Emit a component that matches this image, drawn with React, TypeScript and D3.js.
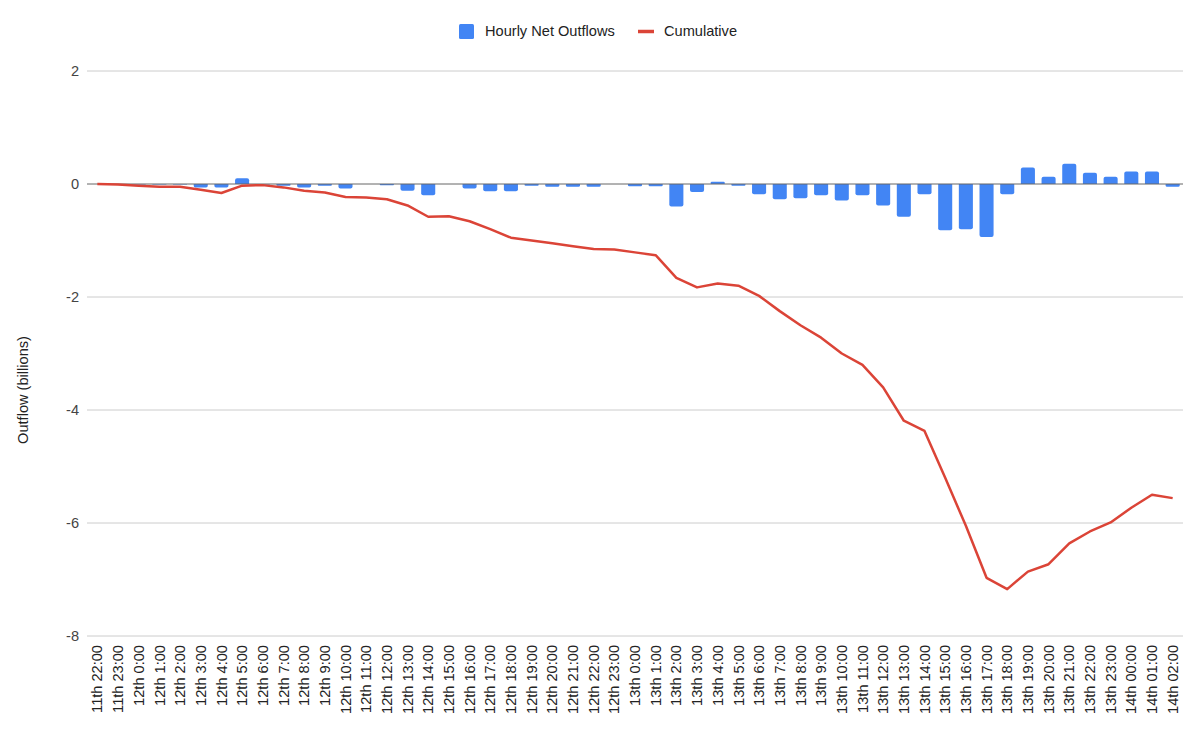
import React from "react";
import * as d3 from "d3";

const categories: string[] = [
  "11th 22:00", "11th 23:00",
  "12th 0:00", "12th 1:00", "12th 2:00", "12th 3:00", "12th 4:00", "12th 5:00",
  "12th 6:00", "12th 7:00", "12th 8:00", "12th 9:00", "12th 10:00", "12th 11:00",
  "12th 12:00", "12th 13:00", "12th 14:00", "12th 15:00", "12th 16:00", "12th 17:00",
  "12th 18:00", "12th 19:00", "12th 20:00", "12th 21:00", "12th 22:00", "12th 23:00",
  "13th 0:00", "13th 1:00", "13th 2:00", "13th 3:00", "13th 4:00", "13th 5:00",
  "13th 6:00", "13th 7:00", "13th 8:00", "13th 9:00", "13th 10:00", "13th 11:00",
  "13th 12:00", "13th 13:00", "13th 14:00", "13th 15:00", "13th 16:00", "13th 17:00",
  "13th 18:00", "13th 19:00", "13th 20:00", "13th 21:00", "13th 22:00", "13th 23:00",
  "14th 00:00", "14th 01:00", "14th 02:00",
];

const hourly: number[] = [
  0, -0.005, -0.01, -0.01, -0.01, -0.06, -0.06, 0.1,
  -0.01, -0.03, -0.06, -0.03, -0.08, -0.005,
  -0.02, -0.12, -0.2, 0.005, -0.08, -0.13,
  -0.13, -0.03, -0.05, -0.05, -0.05, 0.005,
  -0.04, -0.04, -0.4, -0.14, 0.04, -0.03,
  -0.18, -0.27, -0.25, -0.2, -0.29, -0.2,
  -0.38, -0.58, -0.18, -0.82, -0.8, -0.94,
  -0.18, 0.29, 0.13, 0.36, 0.2, 0.13,
  0.22, 0.22, -0.05,
];

const cumulative: number[] = [
  0, -0.01, -0.03, -0.05, -0.05, -0.1, -0.16, -0.03,
  -0.02, -0.06, -0.12, -0.15, -0.23, -0.24,
  -0.27, -0.38, -0.58, -0.57, -0.66, -0.8,
  -0.95, -1.0, -1.05, -1.1, -1.15, -1.16,
  -1.21, -1.26, -1.66, -1.83, -1.76, -1.8,
  -1.98, -2.25, -2.5, -2.72, -3.0, -3.2,
  -3.6, -4.19, -4.37, -5.2, -6.05, -6.97,
  -7.17, -6.86, -6.73, -6.36, -6.15, -5.99,
  -5.73, -5.5, -5.56,
];

const yTicks: number[] = [2, 0, -2, -4, -6, -8];

const seriesNames = ["Hourly Net Outflows", "Cumulative"];
const BLUE = "#4285F4";
const RED = "#DB4437";
const FONT = "'Liberation Sans', Arial, sans-serif";

export default function App() {
  const W = 1200;
  const H = 734;
  const left = 87;
  const right = 1183;
  const top = 71;
  const bottom = 636;

  const x = d3.scaleBand<string>().domain(categories).range([left, right]).paddingInner(0.32).paddingOuter(0.16);
  const xc = (c: string) => (x(c) as number) + x.bandwidth() / 2;
  const y = d3.scaleLinear().domain([-8, 2]).range([bottom, top]);

  const line = d3
    .line<number>()
    .x((_, i) => xc(categories[i]))
    .y((d) => y(d));

  const barPath = (c: string, v: number) => {
    const x0 = x(c) as number;
    const w = x.bandwidth();
    const y0 = y(0);
    const y1 = y(v);
    const h = Math.abs(y1 - y0);
    const r = Math.min(2, h / 2, w / 2);
    if (h < 0.5) return "";
    if (v >= 0) {
      return `M${x0},${y0}V${y1 + r}Q${x0},${y1} ${x0 + r},${y1}H${x0 + w - r}Q${x0 + w},${y1} ${x0 + w},${y1 + r}V${y0}Z`;
    }
    return `M${x0},${y0}V${y1 - r}Q${x0},${y1} ${x0 + r},${y1}H${x0 + w - r}Q${x0 + w},${y1} ${x0 + w},${y1 - r}V${y0}Z`;
  };

  return (
    <svg
      width={W}
      height={H}
      style={{ position: "absolute", left: 0, top: 0, background: "#fff" }}
      fontFamily={FONT}
    >
      <rect x={0} y={0} width={W} height={H} fill="#fff" />
      {/* legend */}
      <g>
        <rect x={459} y={24} width={15} height={15} rx={1.5} fill={BLUE} />
        <text x={485} y={31} dy="0.35em" fontSize={14.6} fill="#222">
          {seriesNames[0]}
        </text>
        <line x1={638} x2={654} y1={31.5} y2={31.5} stroke={RED} strokeWidth={3.5} />
        <text x={664} y={31} dy="0.35em" fontSize={14.6} fill="#222">
          {seriesNames[1]}
        </text>
      </g>
      {/* gridlines */}
      {yTicks.map((t) => (
        <g key={t}>
          {t !== 0 && (
            <line x1={left} x2={right} y1={y(t)} y2={y(t)} stroke="#cccccc" strokeWidth={1} />
          )}
          <text x={79} y={y(t)} dy="0.35em" textAnchor="end" fontSize={14.6} fill="#444">
            {t}
          </text>
        </g>
      ))}
      {/* y title */}
      <text
        transform={`translate(23,390) rotate(-90)`}
        textAnchor="middle"
        dy="0.35em"
        fontSize={14.6}
        fill="#222"
      >
        Outflow (billions)
      </text>
      {/* bars */}
      {categories.map((c, i) => (
        <path key={c} d={barPath(c, hourly[i])} fill={BLUE} />
      ))}
      {/* baseline */}
      <line x1={left} x2={right} y1={y(0)} y2={y(0)} stroke="#666" strokeWidth={1} />
      {/* cumulative line */}
      <path d={line(cumulative) || ""} fill="none" stroke={RED} strokeWidth={2.5} strokeLinejoin="round" />
      {/* x labels */}
      {categories.map((c) => (
        <text
          key={c}
          transform={`translate(${xc(c)},645) rotate(-90)`}
          textAnchor="end"
          dy="0.35em"
          fontSize={14.6}
          fill="#222"
        >
          {c}
        </text>
      ))}
    </svg>
  );
}
